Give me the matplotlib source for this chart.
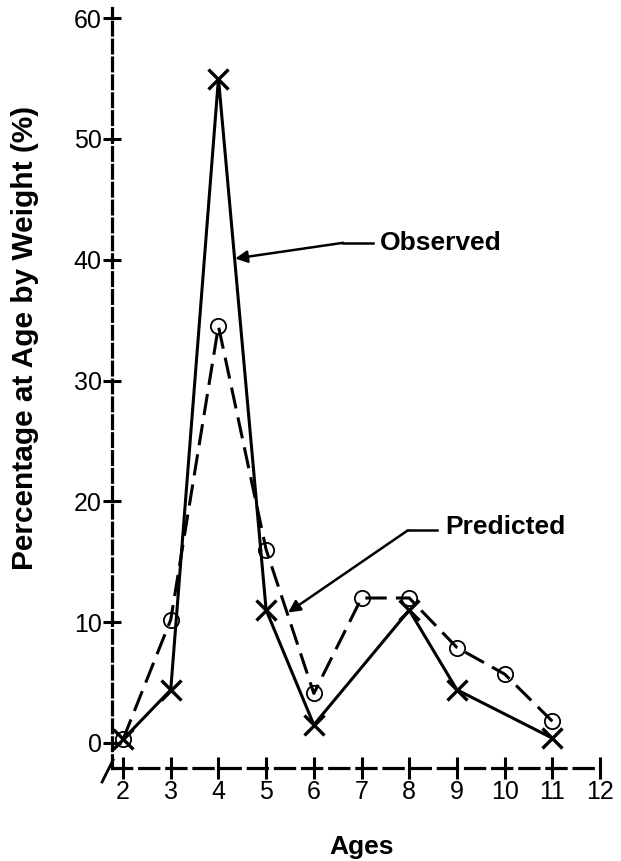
import matplotlib.pyplot as plt

plt.rcParams['font.family'] = ['Liberation Sans', 'DejaVu Sans']

ages = [2, 3, 4, 5, 6, 7, 8, 9, 10, 11]
observed_ages = [2, 3, 4, 5, 6, 8, 9, 11]
observed = [0.3, 4.4, 55.0, 11.0, 1.5, 11.0, 4.4, 0.4]
predicted = [0.3, 10.2, 34.5, 16.0, 4.1, 12.0, 12.0, 7.9, 5.7, 1.8]

x_ticks = list(range(2, 13))
y_ticks = [0, 10, 20, 30, 40, 50, 60]


def main():
    fig = plt.figure(figsize=(6.21, 8.61), dpi=100)
    ax = fig.add_axes([0, 0, 1, 1])
    ax.set_xlim(-0.58, 12.44)
    ax.set_ylim(-9.77, 61.5)

    # dashed axes crossing just left of age 2 and just below zero
    x0, y0 = 1.77, -2.07
    for side in ('top', 'right'):
        ax.spines[side].set_visible(False)
    ax.spines['left'].set_position(('data', x0))
    ax.spines['left'].set_bounds(y0, 60.8)
    ax.spines['left'].set_linestyle((0, (4, 1.6)))
    ax.spines['left'].set_linewidth(2.3)
    ax.spines['bottom'].set_position(('data', y0))
    ax.spines['bottom'].set_bounds(x0, 12)
    ax.spines['bottom'].set_linestyle((0, (6, 2.5)))
    ax.spines['bottom'].set_linewidth(2.3)

    ax.set_xticks(x_ticks)
    ax.set_yticks(y_ticks)
    ax.tick_params(axis='y', direction='inout', length=13, width=2.2,
                   labelsize=18, pad=1)
    ax.tick_params(axis='x', direction='inout', length=16, width=2.2,
                   labelsize=18, pad=1)

    # little break mark at the corner
    ax.plot([1.56, 1.79], [-3.23, -1.41], color='k', lw=2)

    ax.plot(ages, predicted, color='k', lw=2.2, dashes=(7, 3),
            marker='o', ms=11, mfc='none', mec='k', mew=1.3)
    ax.plot(observed_ages, observed, color='k', lw=2.2,
            marker='x', ms=14, mew=2.4)

    # leader lines for the two series
    ax.plot([6.61, 7.24], [41.4, 41.4], color='k', lw=1.8)
    ax.annotate('', xy=(4.35, 40.1), xytext=(6.61, 41.4),
                arrowprops=dict(arrowstyle='-|>', lw=1.8, color='k',
                                mutation_scale=18, shrinkA=0, shrinkB=0))
    ax.text(7.39, 41.4, 'Observed', fontsize=19, fontweight='bold',
            va='center', ha='left')

    ax.plot([7.97, 8.58], [17.6, 17.6], color='k', lw=1.8)
    ax.annotate('', xy=(5.46, 10.8), xytext=(7.97, 17.6),
                arrowprops=dict(arrowstyle='-|>', lw=1.8, color='k',
                                mutation_scale=18, shrinkA=0, shrinkB=0))
    ax.text(8.75, 17.9, 'Predicted', fontsize=19, fontweight='bold',
            va='center', ha='left')

    ax.set_ylabel('Percentage at Age by Weight (%)', fontsize=21.5,
                  fontweight='bold')
    ax.yaxis.set_label_coords(0.062, 0.607)
    ax.set_xlabel('Ages', fontsize=19, fontweight='bold')
    ax.xaxis.set_label_coords(0.583, 0.03)

    fig.savefig('out.png', dpi=100)


if __name__ == "__main__":
    main()
